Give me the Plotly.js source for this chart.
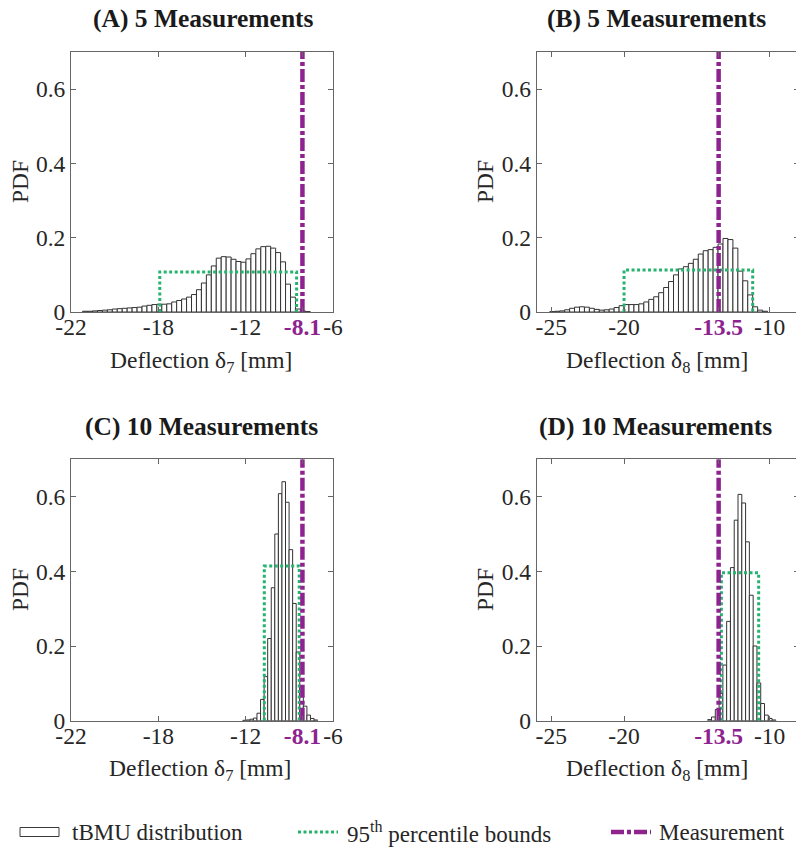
<!DOCTYPE html>
<html>
<head>
<meta charset="utf-8">
<script src="https://cdn.plot.ly/plotly-3.0.1.min.js"></script>
<style>
html,body{margin:0;padding:0;overflow:hidden;background:#fff;width:796px;height:848px;}
#chart{width:810px;height:848px;}
</style>
</head>
<body>
<div id="chart"></div>
<script>
// ---------- data ----------
const panelTitles = ['(A) 5 Measurements', '(B) 5 Measurements', '(C) 10 Measurements', '(D) 10 Measurements'];
const xTitles = ['Deflection δ<sub>7</sub> [mm]', 'Deflection δ<sub>8</sub> [mm]', 'Deflection δ<sub>7</sub> [mm]', 'Deflection δ<sub>8</sub> [mm]'];

const binCentersA = [-23.03,-22.69,-22.35,-22.01,-21.67,-21.33,-20.99,-20.65,-20.31,-19.97,-19.63,-19.29,-18.95,-18.61,-18.27,-17.93,-17.59,-17.25,-16.91,-16.57,-16.23,-15.89,-15.55,-15.21,-14.87,-14.53,-14.19,-13.85,-13.51,-13.17,-12.83,-12.49,-12.15,-11.81,-11.47,-11.13,-10.79,-10.45,-10.11,-9.77,-9.43,-9.09,-8.75,-8.41,-8.07,-7.73];
const pdfA = [0.002,0.002,0.003,0.004,0.005,0.006,0.008,0.009,0.010,0.011,0.012,0.013,0.016,0.018,0.020,0.021,0.021,0.022,0.027,0.031,0.035,0.040,0.047,0.060,0.078,0.100,0.124,0.145,0.149,0.148,0.142,0.136,0.134,0.143,0.157,0.170,0.176,0.177,0.172,0.160,0.135,0.075,0.040,0.008,0.003,0.001];
const binWidthA = 0.34;

const binCentersB = [-24.93,-24.59,-24.25,-23.91,-23.57,-23.23,-22.89,-22.55,-22.21,-21.87,-21.53,-21.19,-20.85,-20.51,-20.17,-19.83,-19.49,-19.15,-18.81,-18.47,-18.13,-17.79,-17.45,-17.11,-16.77,-16.43,-16.09,-15.75,-15.41,-15.07,-14.73,-14.39,-14.05,-13.71,-13.37,-13.03,-12.69,-12.35,-12.01,-11.67,-11.33,-10.99,-10.65,-10.31];
const pdfB = [0.001,0.002,0.003,0.006,0.010,0.013,0.014,0.013,0.010,0.007,0.005,0.006,0.008,0.012,0.017,0.020,0.020,0.020,0.022,0.027,0.034,0.041,0.052,0.066,0.082,0.100,0.116,0.122,0.131,0.142,0.156,0.165,0.168,0.174,0.183,0.198,0.195,0.172,0.110,0.084,0.046,0.014,0.005,0.002];
const binWidthB = 0.34;

const binCentersC = [-12.08,-11.835,-11.59,-11.345,-11.10,-10.855,-10.61,-10.365,-10.12,-9.875,-9.63,-9.385,-9.14,-8.895,-8.65,-8.405,-8.16,-7.915,-7.67,-7.425,-7.18];
const pdfC = [0.001,0.002,0.004,0.007,0.020,0.057,0.118,0.220,0.356,0.500,0.608,0.640,0.585,0.458,0.314,0.184,0.090,0.039,0.015,0.006,0.002];
const binWidthC = 0.245;

const binCentersD = [-14.119,-13.859,-13.599,-13.339,-13.079,-12.819,-12.559,-12.299,-12.039,-11.779,-11.519,-11.259,-10.999,-10.739,-10.479,-10.219,-9.959,-9.699];
const pdfD = [0.003,0.010,0.030,0.073,0.149,0.266,0.410,0.537,0.606,0.583,0.479,0.336,0.200,0.101,0.046,0.015,0.006,0.002];
const binWidthD = 0.26;

// 95th percentile bounds: [lower, upper, height]
const boundsA = [-17.9, -8.5, 0.108];
const boundsB = [-20.0, -11.16, 0.113];
const boundsC = [-10.72, -8.32, 0.414];
const boundsD = [-13.31, -10.75, 0.396];

const measurements = [-8.1, -13.5, -8.1, -13.5];

const xRanges = [[-24, -6], [-26, -8], [-24, -6], [-26, -8]];
const xTickVals7 = [-24, -18, -12, -8.1, -6];
const xTickText7 = ['-22', '-18', '-12', '-8.1', '-6'];
const xTickVals8 = [-25, -20, -13.5, -10];
const xTickText8 = ['-25', '-20', '-13.5', '-10'];
const yTickVals = [0, 0.2, 0.4, 0.6];
const yTickText = ['0', '0.2', '0.4', '0.6'];

const legendLabels = ['tBMU distribution', '95<sup>th</sup> percentile bounds', 'Measurement'];

// ---------- styling ----------
const W = 810, H = 848;
const PURPLE = '#8e2390';
const GREEN = '#25b36f';
const FONT = 'Liberation Serif, Times New Roman, serif';
const fx = p => p / W;
const fy = p => 1 - p / H;

const panels = [
  {centers: binCentersA, pdf: pdfA, w: binWidthA, b: boundsA, ticks: [xTickVals7, xTickText7], box: [71, 333, 52, 312], title: [204, 18], xt: [201, 362], yt: [20, 182]},
  {centers: binCentersB, pdf: pdfB, w: binWidthB, b: boundsB, ticks: [xTickVals8, xTickText8], box: [536.7, 798.7, 52, 312], title: [656, 18], xt: [657, 362], yt: [485, 182]},
  {centers: binCentersC, pdf: pdfC, w: binWidthC, b: boundsC, ticks: [xTickVals7, xTickText7], box: [71, 333, 459.3, 720.7], title: [201, 426], xt: [200, 770], yt: [20, 590]},
  {centers: binCentersD, pdf: pdfD, w: binWidthD, b: boundsD, ticks: [xTickVals8, xTickText8], box: [536.7, 798.7, 459.3, 720.7], title: [655, 426], xt: [657, 770], yt: [485, 590]}
];

const traces = [];
const layout = {
  width: W, height: H,
  margin: {l: 0, r: 0, t: 0, b: 0},
  paper_bgcolor: '#fff', plot_bgcolor: '#fff',
  showlegend: false,
  bargap: 0,
  font: {family: FONT, size: 23, color: '#262626'},
  annotations: [],
  shapes: []
};

panels.forEach((p, i) => {
  const k = i === 0 ? '' : String(i + 1);
  const xa = 'x' + k, ya = 'y' + k;
  traces.push({
    type: 'bar', x: p.centers, y: p.pdf, width: p.w,
    marker: {color: '#ffffff', line: {color: '#333333', width: 1}},
    xaxis: xa, yaxis: ya, hoverinfo: 'skip'
  });
  traces.push({
    type: 'scatter', mode: 'lines',
    x: [p.b[0], p.b[0], p.b[1], p.b[1]], y: [0, p.b[2], p.b[2], 0],
    line: {color: GREEN, width: 3, dash: '3px,2.5px'},
    xaxis: xa, yaxis: ya, hoverinfo: 'skip'
  });
  traces.push({
    type: 'scatter', mode: 'lines',
    x: [measurements[i], measurements[i]], y: [0, 0.7],
    line: {color: PURPLE, width: 4.5, dash: '13px,3px,4px,3px'},
    xaxis: xa, yaxis: ya, hoverinfo: 'skip'
  });
  const m = measurements[i];
  const tt = p.ticks[1].map((t, j) => p.ticks[0][j] === m ? '<b><span style="color:' + PURPLE + '">' + t + '</span></b>' : t);
  layout['xaxis' + k] = {
    domain: [fx(p.box[0]), fx(p.box[1])], range: xRanges[i], anchor: ya,
    tickmode: 'array', tickvals: p.ticks[0], ticktext: tt,
    ticks: 'inside', ticklen: 5, tickcolor: '#666', showline: true, linecolor: '#666', linewidth: 1,
    mirror: 'ticks', showgrid: false, zeroline: false, fixedrange: true,
    ticklabelstandoff: -6,
    tickfont: {family: FONT, size: 23.5, color: '#262626'}
  };
  layout['yaxis' + k] = {
    domain: [fy(p.box[3]), fy(p.box[2])], range: [0, 0.7], anchor: xa,
    tickmode: 'array', tickvals: yTickVals, ticktext: yTickText,
    ticks: 'inside', ticklen: 5, tickcolor: '#666', showline: true, linecolor: '#666', linewidth: 1,
    mirror: 'ticks', showgrid: false, zeroline: false, fixedrange: true,
    tickfont: {family: FONT, size: 23.5, color: '#262626'}
  };
  layout.annotations.push({
    xref: 'paper', yref: 'paper', x: fx(p.title[0]), y: fy(p.title[1]),
    xanchor: 'center', yanchor: 'middle', showarrow: false,
    text: '<b>' + panelTitles[i] + '</b>', font: {family: FONT, size: 25.5, color: '#1a1a1a'}
  });
  layout.annotations.push({
    xref: 'paper', yref: 'paper', x: fx(p.xt[0]), y: fy(p.xt[1]),
    xanchor: 'center', yanchor: 'middle', showarrow: false,
    text: xTitles[i], font: {family: FONT, size: 23.5, color: '#262626'}
  });
  layout.annotations.push({
    xref: 'paper', yref: 'paper', x: fx(p.yt[0]), y: fy(p.yt[1]),
    xanchor: 'center', yanchor: 'middle', showarrow: false, textangle: -90,
    text: 'PDF', font: {family: FONT, size: 23.5, color: '#262626'}
  });
});

// ---------- legend (bottom) ----------
const LY = 832;
layout.shapes.push({type: 'rect', xref: 'paper', yref: 'paper', x0: fx(20), x1: fx(59), y0: fy(836.5), y1: fy(827.5),
  line: {color: '#3a3a3a', width: 1}, fillcolor: '#fff'});
layout.shapes.push({type: 'line', xref: 'paper', yref: 'paper', x0: fx(298), x1: fx(338), y0: fy(LY), y1: fy(LY),
  line: {color: GREEN, width: 3, dash: '3px,2.5px'}});
layout.shapes.push({type: 'line', xref: 'paper', yref: 'paper', x0: fx(611), x1: fx(651), y0: fy(LY), y1: fy(LY),
  line: {color: PURPLE, width: 4.5, dash: '13px,3px,4px,3px'}});
[[70, legendLabels[0]], [345, legendLabels[1]], [657, legendLabels[2]]].forEach(([x, t]) => {
  layout.annotations.push({
    xref: 'paper', yref: 'paper', x: fx(x), y: fy(LY), xanchor: 'left', yanchor: 'middle', showarrow: false,
    text: t, font: {family: FONT, size: 23, color: '#262626'}
  });
});

Plotly.newPlot('chart', traces, layout, {staticPlot: true, displayModeBar: false});
</script>
</body>
</html>
